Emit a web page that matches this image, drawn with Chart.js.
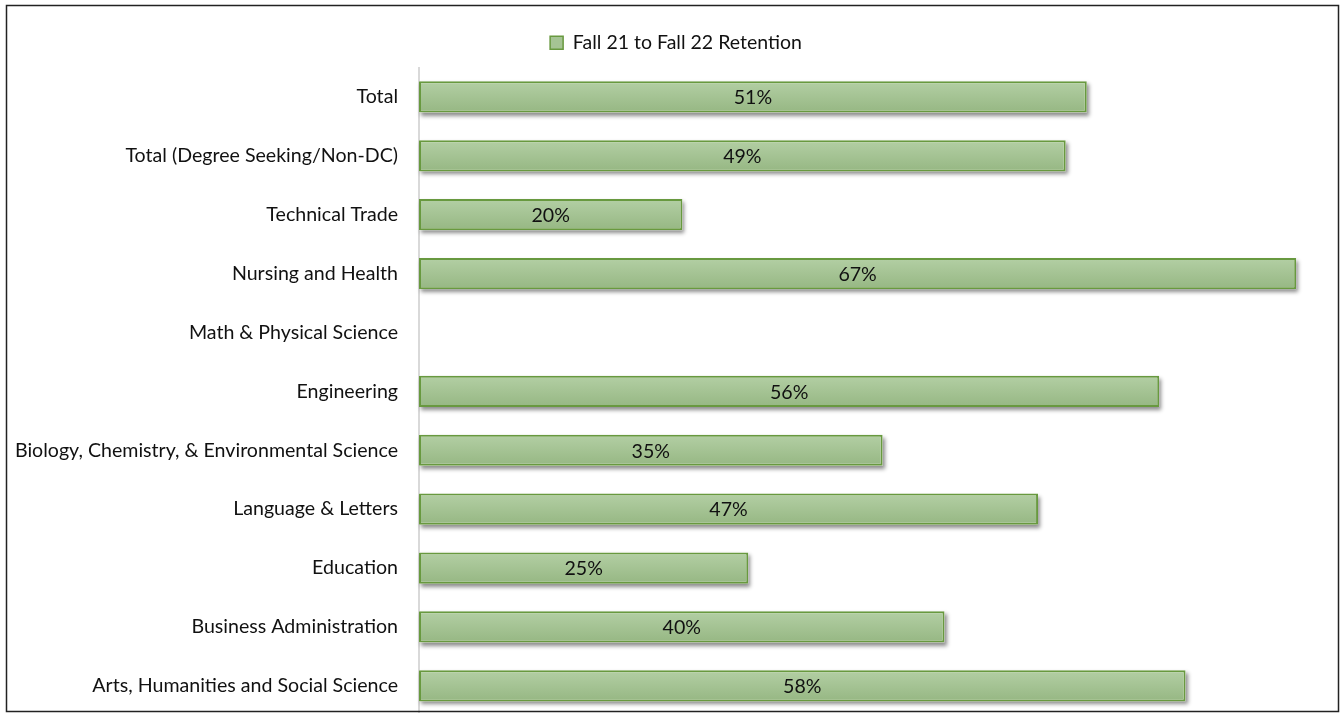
<!DOCTYPE html>
<html>
<head>
<meta charset="utf-8">
<script src="https://cdn.jsdelivr.net/npm/chart.js@4.4.0/dist/chart.umd.min.js"></script>
<style>
  body { margin: 0; background: #fff; }
  #wrap { width: 1341px; height: 713px; overflow: hidden; position: relative; }
  #chart { position: absolute; left: 0; top: 0; }
</style>
</head>
<body>
<div id="wrap"><canvas id="chart" width="1341" height="740"></canvas></div>
<script>
const categories = [
  'Total',
  'Total (Degree Seeking/Non-DC)',
  'Technical Trade',
  'Nursing and Health',
  'Math & Physical Science',
  'Engineering',
  'Biology, Chemistry, & Environmental Science',
  'Language & Letters',
  'Education',
  'Business Administration',
  'Arts, Humanities and Social Science'
]
const retention = [50.7, 49.1, 20.0, 66.6, null, 56.2, 35.2, 47.0, 25.0, 39.9, 58.2]
const seriesLabel = 'Fall 21 to Fall 22 Retention'

const FONT = 'Lato'
const barTop = '#b3cfa4'
const barBottom = '#96b783'
const barEdge = '#68993f'

function barGradient(c) {
  const chart = c.chart
  const ya = chart.scales && chart.scales.y
  if (!ya || c.type !== 'data' || ya.height == null) return barTop
  const yc = ya.getPixelForValue(c.dataIndex)
  const half = (ya.getPixelForValue(1) - ya.getPixelForValue(0)) * 0.53 / 2
  const g = chart.ctx.createLinearGradient(0, yc - half, 0, yc + half)
  g.addColorStop(0, barTop)
  g.addColorStop(1, barBottom)
  return g
}

// extra gap under the legend
const legendGap = {
  id: 'legendGap',
  beforeInit(chart) {
    const fit = chart.legend.fit
    chart.legend.fit = function() {
      fit.bind(chart.legend)()
      this.height += 5
    }
  }
}

// soft shadow under each bar, like the office chart
const barShadow = {
  id: 'barShadow',
  beforeDatasetsDraw(chart) {
    const ctx = chart.ctx
    const meta = chart.getDatasetMeta(0)
    ctx.save()
    ctx.shadowColor = 'rgba(0,0,0,0.45)'
    ctx.shadowBlur = 4
    ctx.shadowOffsetX = 2
    ctx.shadowOffsetY = 3
    ctx.fillStyle = '#fff'
    meta.data.forEach((bar, i) => {
      if (retention[i] == null) return
      const left = Math.min(bar.base, bar.x)
      const w = Math.abs(bar.x - bar.base)
      ctx.fillRect(left, bar.y - bar.height / 2, w, bar.height)
    })
    ctx.restore()
  }
}

const valueLabels = {
  id: 'valueLabels',
  afterDatasetsDraw(chart) {
    const ctx = chart.ctx
    const meta = chart.getDatasetMeta(0)
    ctx.save()
    ctx.font = '19.6px ' + FONT
    ctx.fillStyle = '#111'
    ctx.textAlign = 'center'
    ctx.textBaseline = 'middle'
    meta.data.forEach((bar, i) => {
      const v = retention[i]
      if (v == null) return
      ctx.fillText(Math.round(v) + '%', (bar.base + bar.x) / 2, bar.y + 1)
    })
    ctx.restore()
  }
}

const frame = {
  id: 'frame',
  afterDraw(chart) {
    const ctx = chart.ctx
    ctx.save()
    ctx.strokeStyle = '#222'
    ctx.lineWidth = 1.5
    ctx.strokeRect(6.5, 5.5, 1332, 706)
    ctx.restore()
  }
}

new Chart(document.getElementById('chart').getContext('2d'), {
  type: 'bar',
  data: {
    labels: categories,
    datasets: [{
      label: seriesLabel,
      data: retention,
      backgroundColor: barGradient,
      borderColor: barEdge,
      borderWidth: 2,
      borderSkipped: false,
      categoryPercentage: 1,
      barPercentage: 0.53
    }]
  },
  options: {
    indexAxis: 'y',
    responsive: false,
    animation: false,
    layout: { padding: { top: 23, left: 11, right: 0, bottom: 22.5 } },
    scales: {
      x: { display: false, min: 0, max: 70 },
      y: {
        afterFit: function(scale) { scale.width = 419 - 11 },
        grid: { display: false },
        border: { display: true, color: '#d9d9d9', width: 2 },
        ticks: { color: '#111', padding: 13, font: { family: FONT, size: 19.6 } }
      }
    },
    plugins: {
      tooltip: { enabled: false },
      legend: {
        position: 'top',
        labels: {
          color: '#111',
          boxWidth: 13,
          boxHeight: 13,
          padding: 10,
          font: { family: FONT, size: 19.5 },
          generateLabels: function(chart) {
            const items = Chart.defaults.plugins.legend.labels.generateLabels(chart)
            items.forEach(it => {
              it.fillStyle = '#a5c494'
              it.strokeStyle = barEdge
              it.lineWidth = 1.5
            })
            return items
          }
        }
      }
    }
  },
  plugins: [legendGap, barShadow, valueLabels, frame]
})
</script>
</body>
</html>
